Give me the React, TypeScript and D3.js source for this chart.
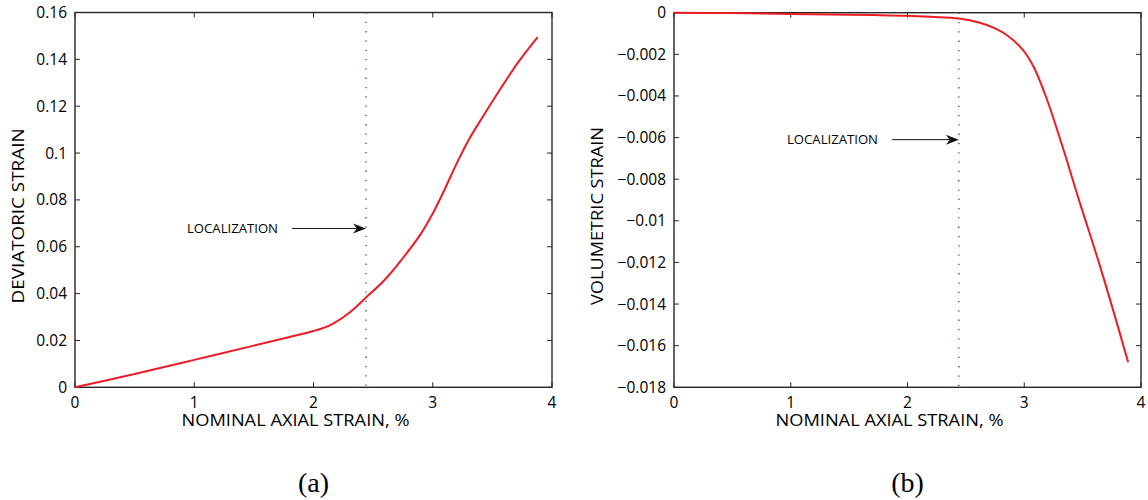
import React from "react";
import * as d3 from "d3";

// ---- data ----
const devX = [0, 0.5, 1.0, 1.5, 1.8, 2.0, 2.15, 2.3, 2.44, 2.6, 2.75, 2.9, 3.0, 3.1, 3.2, 3.3, 3.42, 3.56, 3.72, 3.88];
const devY = [0, 0.0057, 0.0117, 0.0178, 0.0215, 0.024, 0.0268, 0.0318, 0.0383, 0.046, 0.0552, 0.0655, 0.0742, 0.0845, 0.0955, 0.1055, 0.1155, 0.1268, 0.139, 0.1495];

const volX = [0, 0.5, 1.0, 1.5, 1.77, 2.0, 2.2, 2.44, 2.62, 2.75, 2.85, 2.99, 3.08, 3.19, 3.32, 3.48, 3.65, 3.89];
const volY = [0, -0.00002, -0.00006, -0.0001, -0.00012, -0.00015, -0.0002, -0.00028, -0.00048, -0.00075, -0.00107, -0.0018, -0.0026, -0.0041, -0.0063, -0.0092, -0.0122, -0.0168];

const xTicks = [0, 1, 2, 3, 4];
const devTicks = [0, 0.02, 0.04, 0.06, 0.08, 0.1, 0.12, 0.14, 0.16];
const volTicks = [0, -0.002, -0.004, -0.006, -0.008, -0.01, -0.012, -0.014, -0.016, -0.018];
const localizationX = 2.44;

const SANS = "'Open Sans', 'Noto Sans', sans-serif";
const AXIS = "#262626";
const RED = "#ec1c24";

type PanelProps = {
  left: number;
  right: number;
  top: number;
  bottom: number;
  xs: number[];
  ys: number[];
  yDomain: [number, number];
  yTicks: number[];
  yLabel: string;
  yLabelX: number;
  yLabelLen: number;
  arrowValue: number;
  labelStartX: number;
  arrowStartX: number;
  caption: string;
  fmt: (v: number) => string;
};

function Panel(p: PanelProps) {
  const x = d3.scaleLinear().domain([0, 4]).range([p.left, p.right]);
  const y = d3.scaleLinear().domain(p.yDomain).range([p.bottom, p.top]);
  const pts = p.xs.map((v, i) => [v, p.ys[i]] as [number, number]);
  const line = d3
    .line<[number, number]>()
    .x((d) => x(d[0]))
    .y((d) => y(d[1]))
    .curve(d3.curveCatmullRom.alpha(0.5));
  const tl = 5;
  const cx = (p.left + p.right) / 2;
  const cy = (p.top + p.bottom) / 2 + 16;
  const ay = y(p.arrowValue);
  const lx = x(localizationX);
  return (
    <g>
      <rect x={p.left} y={p.top} width={p.right - p.left} height={p.bottom - p.top} fill="none" stroke={AXIS} strokeWidth={1.4} />
      {xTicks.map((t) => (
        <g key={"xt" + t}>
          <line x1={x(t)} x2={x(t)} y1={p.bottom} y2={p.bottom - tl} stroke={AXIS} strokeWidth={1} />
          <line x1={x(t)} x2={x(t)} y1={p.top} y2={p.top + tl} stroke={AXIS} strokeWidth={1} />
          <text x={x(t)} y={p.bottom + 20.5} textAnchor="middle" fontFamily={SANS} fontSize={15.5} fill="#000">
            {t}
          </text>
        </g>
      ))}
      {p.yTicks.map((t) => (
        <g key={"yt" + t}>
          <line x1={p.left} x2={p.left + tl} y1={y(t)} y2={y(t)} stroke={AXIS} strokeWidth={1} />
          <line x1={p.right} x2={p.right - tl} y1={y(t)} y2={y(t)} stroke={AXIS} strokeWidth={1} />
          <text x={p.left - 8} y={y(t) + 5.5} textAnchor="end" fontFamily={SANS} fontSize={15.5} fill="#000">
            {p.fmt(t)}
          </text>
        </g>
      ))}
      <line x1={lx} x2={lx} y1={p.top} y2={p.bottom} stroke="#3a3aa8" strokeWidth={1.3} strokeDasharray="1.3 8" />
      <path d={line(pts) || ""} fill="none" stroke={RED} strokeWidth={2} />
      <text x={p.labelStartX} y={ay + 4.5} fontFamily={SANS} fontSize={12} fill="#000" textLength={91} lengthAdjust="spacingAndGlyphs">
        LOCALIZATION
      </text>
      <line x1={p.arrowStartX} x2={lx - 8} y1={ay} y2={ay} stroke="#111" strokeWidth={1} />
      <path d={`M${lx},${ay} L${lx - 13},${ay - 5} L${lx - 9},${ay} L${lx - 13},${ay + 5} Z`} fill="#111" />
      <text x={cx - 18} y={p.bottom + 39} textAnchor="middle" fontFamily={SANS} fontSize={17} fill="#000" textLength={228} lengthAdjust="spacingAndGlyphs">
        NOMINAL AXIAL STRAIN, %
      </text>
      <text
        transform={`translate(${p.yLabelX},${cy}) rotate(-90)`}
        textAnchor="middle"
        fontFamily={SANS}
        fontSize={17}
        fill="#000"
        textLength={p.yLabelLen}
        lengthAdjust="spacingAndGlyphs"
      >
        {p.yLabel}
      </text>
      <text x={cx} y={492} textAnchor="middle" fontFamily="'Liberation Serif', 'DejaVu Serif', serif" fontSize={28} fill="#000">
        {p.caption}
      </text>
    </g>
  );
}

const fmtDev = (v: number) => (v === 0 ? "0" : String(+v.toFixed(2)));
const fmtVol = (v: number) => (v === 0 ? "0" : "\u2212" + String(+Math.abs(v).toFixed(3)));

export default function App() {
  return (
    <svg width={1148} height={500} style={{ position: "absolute", left: 0, top: 0, background: "#fff" }}>
      <rect width={1148} height={500} fill="#fff" />
      <Panel
        left={75}
        right={552}
        top={12.5}
        bottom={387.3}
        xs={devX}
        ys={devY}
        yDomain={[0, 0.16]}
        yTicks={devTicks}
        yLabel="DEVIATORIC STRAIN"
        yLabelX={24}
        yLabelLen={175}
        arrowValue={0.0678}
        labelStartX={187}
        arrowStartX={292}
        caption="(a)"
        fmt={fmtDev}
      />
      <Panel
        left={674}
        right={1141}
        top={12.7}
        bottom={387.3}
        xs={volX}
        ys={volY}
        yDomain={[-0.018, 0]}
        yTicks={volTicks}
        yLabel="VOLUMETRIC STRAIN"
        yLabelX={603}
        yLabelLen={178}
        arrowValue={-0.0061}
        labelStartX={787}
        arrowStartX={892}
        caption="(b)"
        fmt={fmtVol}
      />
    </svg>
  );
}
